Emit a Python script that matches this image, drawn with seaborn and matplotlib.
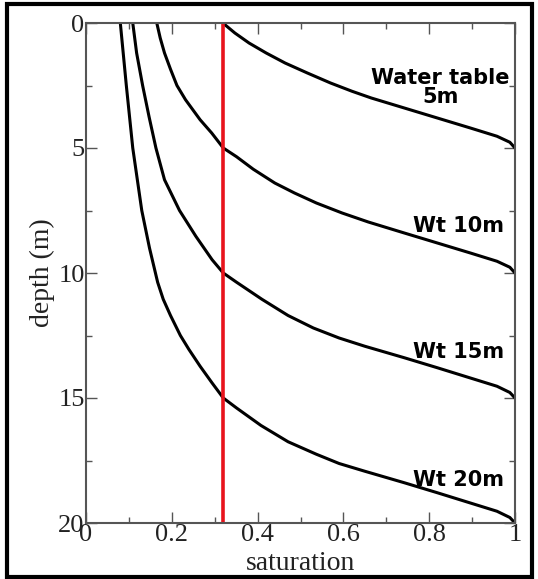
import matplotlib
matplotlib.use("Agg")
import matplotlib.pyplot as plt
import seaborn as sns
import pandas as pd
from matplotlib.patches import Rectangle
from matplotlib.ticker import MultipleLocator

# Values
wt5_sat   = [0.320, 0.326, 0.347, 0.380, 0.420, 0.464, 0.516, 0.570, 0.620, 0.665, 0.742, 0.819, 0.896, 0.958, 0.988, 1.0]
wt5_depth = [0.0, 0.10, 0.40, 0.80, 1.20, 1.60, 2.00, 2.40, 2.73, 3.00, 3.40, 3.80, 4.20, 4.53, 4.77, 5.0]

wt10_sat   = [0.165, 0.173, 0.183, 0.197, 0.212, 0.232, 0.266, 0.293, 0.320, 0.351, 0.390, 0.440, 0.486, 0.537, 0.597, 0.658, 0.742, 0.819, 0.896, 0.958, 0.988, 1.0]
wt10_depth = [0.0, 0.60, 1.20, 1.85, 2.50, 3.07, 3.87, 4.40, 5.00, 5.35, 5.85, 6.40, 6.80, 7.20, 7.60, 7.96, 8.40, 8.80, 9.20, 9.53, 9.77, 10.0]

wt15_sat   = [0.109, 0.118, 0.132, 0.147, 0.163, 0.183, 0.218, 0.256, 0.294, 0.320, 0.351, 0.410, 0.471, 0.530, 0.590, 0.650, 0.742, 0.819, 0.896, 0.958, 0.988, 1.0]
wt15_depth = [0.0, 1.20, 2.50, 3.75, 5.00, 6.27, 7.50, 8.53, 9.47, 10.0, 10.37, 11.05, 11.70, 12.20, 12.60, 12.93, 13.39, 13.79, 14.20, 14.53, 14.78, 15.0]

wt20_sat   = [0.080, 0.094, 0.109, 0.130, 0.148, 0.167, 0.180, 0.197, 0.220, 0.240, 0.266, 0.294, 0.320, 0.351, 0.408, 0.471, 0.537, 0.590, 0.650, 0.742, 0.819, 0.896, 0.958, 0.988, 1.0]
wt20_depth = [0.0, 2.50, 5.00, 7.50, 9.00, 10.37, 11.05, 11.70, 12.50, 13.06, 13.73, 14.40, 15.0, 15.40, 16.10, 16.75, 17.25, 17.62, 17.93, 18.39, 18.79, 19.20, 19.53, 19.78, 20.0]

red_sat = [0.320, 0.320]
red_depth = [0.0, 20.0]

labels = ["Water table\n5m", "Wt 10m", "Wt 15m", "Wt 20m"]
label_depth = [2.57, 8.13, 13.16, 18.26]
label_sat = [0.988, 0.974, 0.974, 0.974]

x_ticks = [0, 0.2, 0.4, 0.6, 0.8, 1.0]
x_ticklabels = ["0", "0.2", "0.4", "0.6", "0.8", "1"]
y_ticks = [0, 5, 10, 15, 20]
y_ticklabels = ["0", "5", "10", "15", "20"]

sns.set_theme(style="white")
plt.rcParams['font.family'] = ['Liberation Serif', 'DejaVu Serif']

fig = plt.figure(figsize=(5.38, 5.79), dpi=100)
ax = fig.add_axes([86/538, 1-523/579, (515-86)/538, (523-23)/579])

curves = [(wt5_sat, wt5_depth), (wt10_sat, wt10_depth), (wt15_sat, wt15_depth), (wt20_sat, wt20_depth)]
for s, d in curves:
    df = pd.DataFrame({"sat": s, "depth": d})
    sns.lineplot(data=df, x="sat", y="depth", sort=False, estimator=None,
                 color="black", lw=2.2, ax=ax)

df_red = pd.DataFrame({"sat": red_sat, "depth": red_depth})
sns.lineplot(data=df_red, x="sat", y="depth", sort=False, estimator=None,
             color="#e8141c", lw=2.6, ax=ax)

for t, xs, yd in zip(labels, label_sat, label_depth):
    ax.text(xs, yd, t, ha="right", va="center", fontsize=15, fontweight="bold",
            color="black", family=["DejaVu Sans"], multialignment="center",
            linespacing=0.95)

ax.set_xlim(0, 1)
ax.set_ylim(20, 0)
ax.set_xticks(x_ticks)
ax.set_xticklabels(x_ticklabels)
ax.set_yticks(y_ticks)
ax.set_yticklabels(y_ticklabels)
ax.xaxis.set_minor_locator(MultipleLocator(0.1))
ax.yaxis.set_minor_locator(MultipleLocator(2.5))
ax.tick_params(which="both", direction="in", top=True, right=True, bottom=True, left=True,
               color="#555555", width=1.0, labelsize=19, labelcolor="#222222", pad=1)
ax.tick_params(which="major", length=8)
ax.tick_params(which="minor", length=4)
for sp in ax.spines.values():
    sp.set_color("#555555")
    sp.set_linewidth(1.5)
ax.set_xlabel("saturation", fontsize=20, labelpad=3, color="#222222")
ax.set_ylabel("depth (m)", fontsize=20, labelpad=2, color="#222222")

fig.patches.append(Rectangle((7/538, 2/579), 525/538, 573/579, transform=fig.transFigure,
                             fill=False, edgecolor="black", lw=3))

fig.savefig("out.png", dpi=100)
